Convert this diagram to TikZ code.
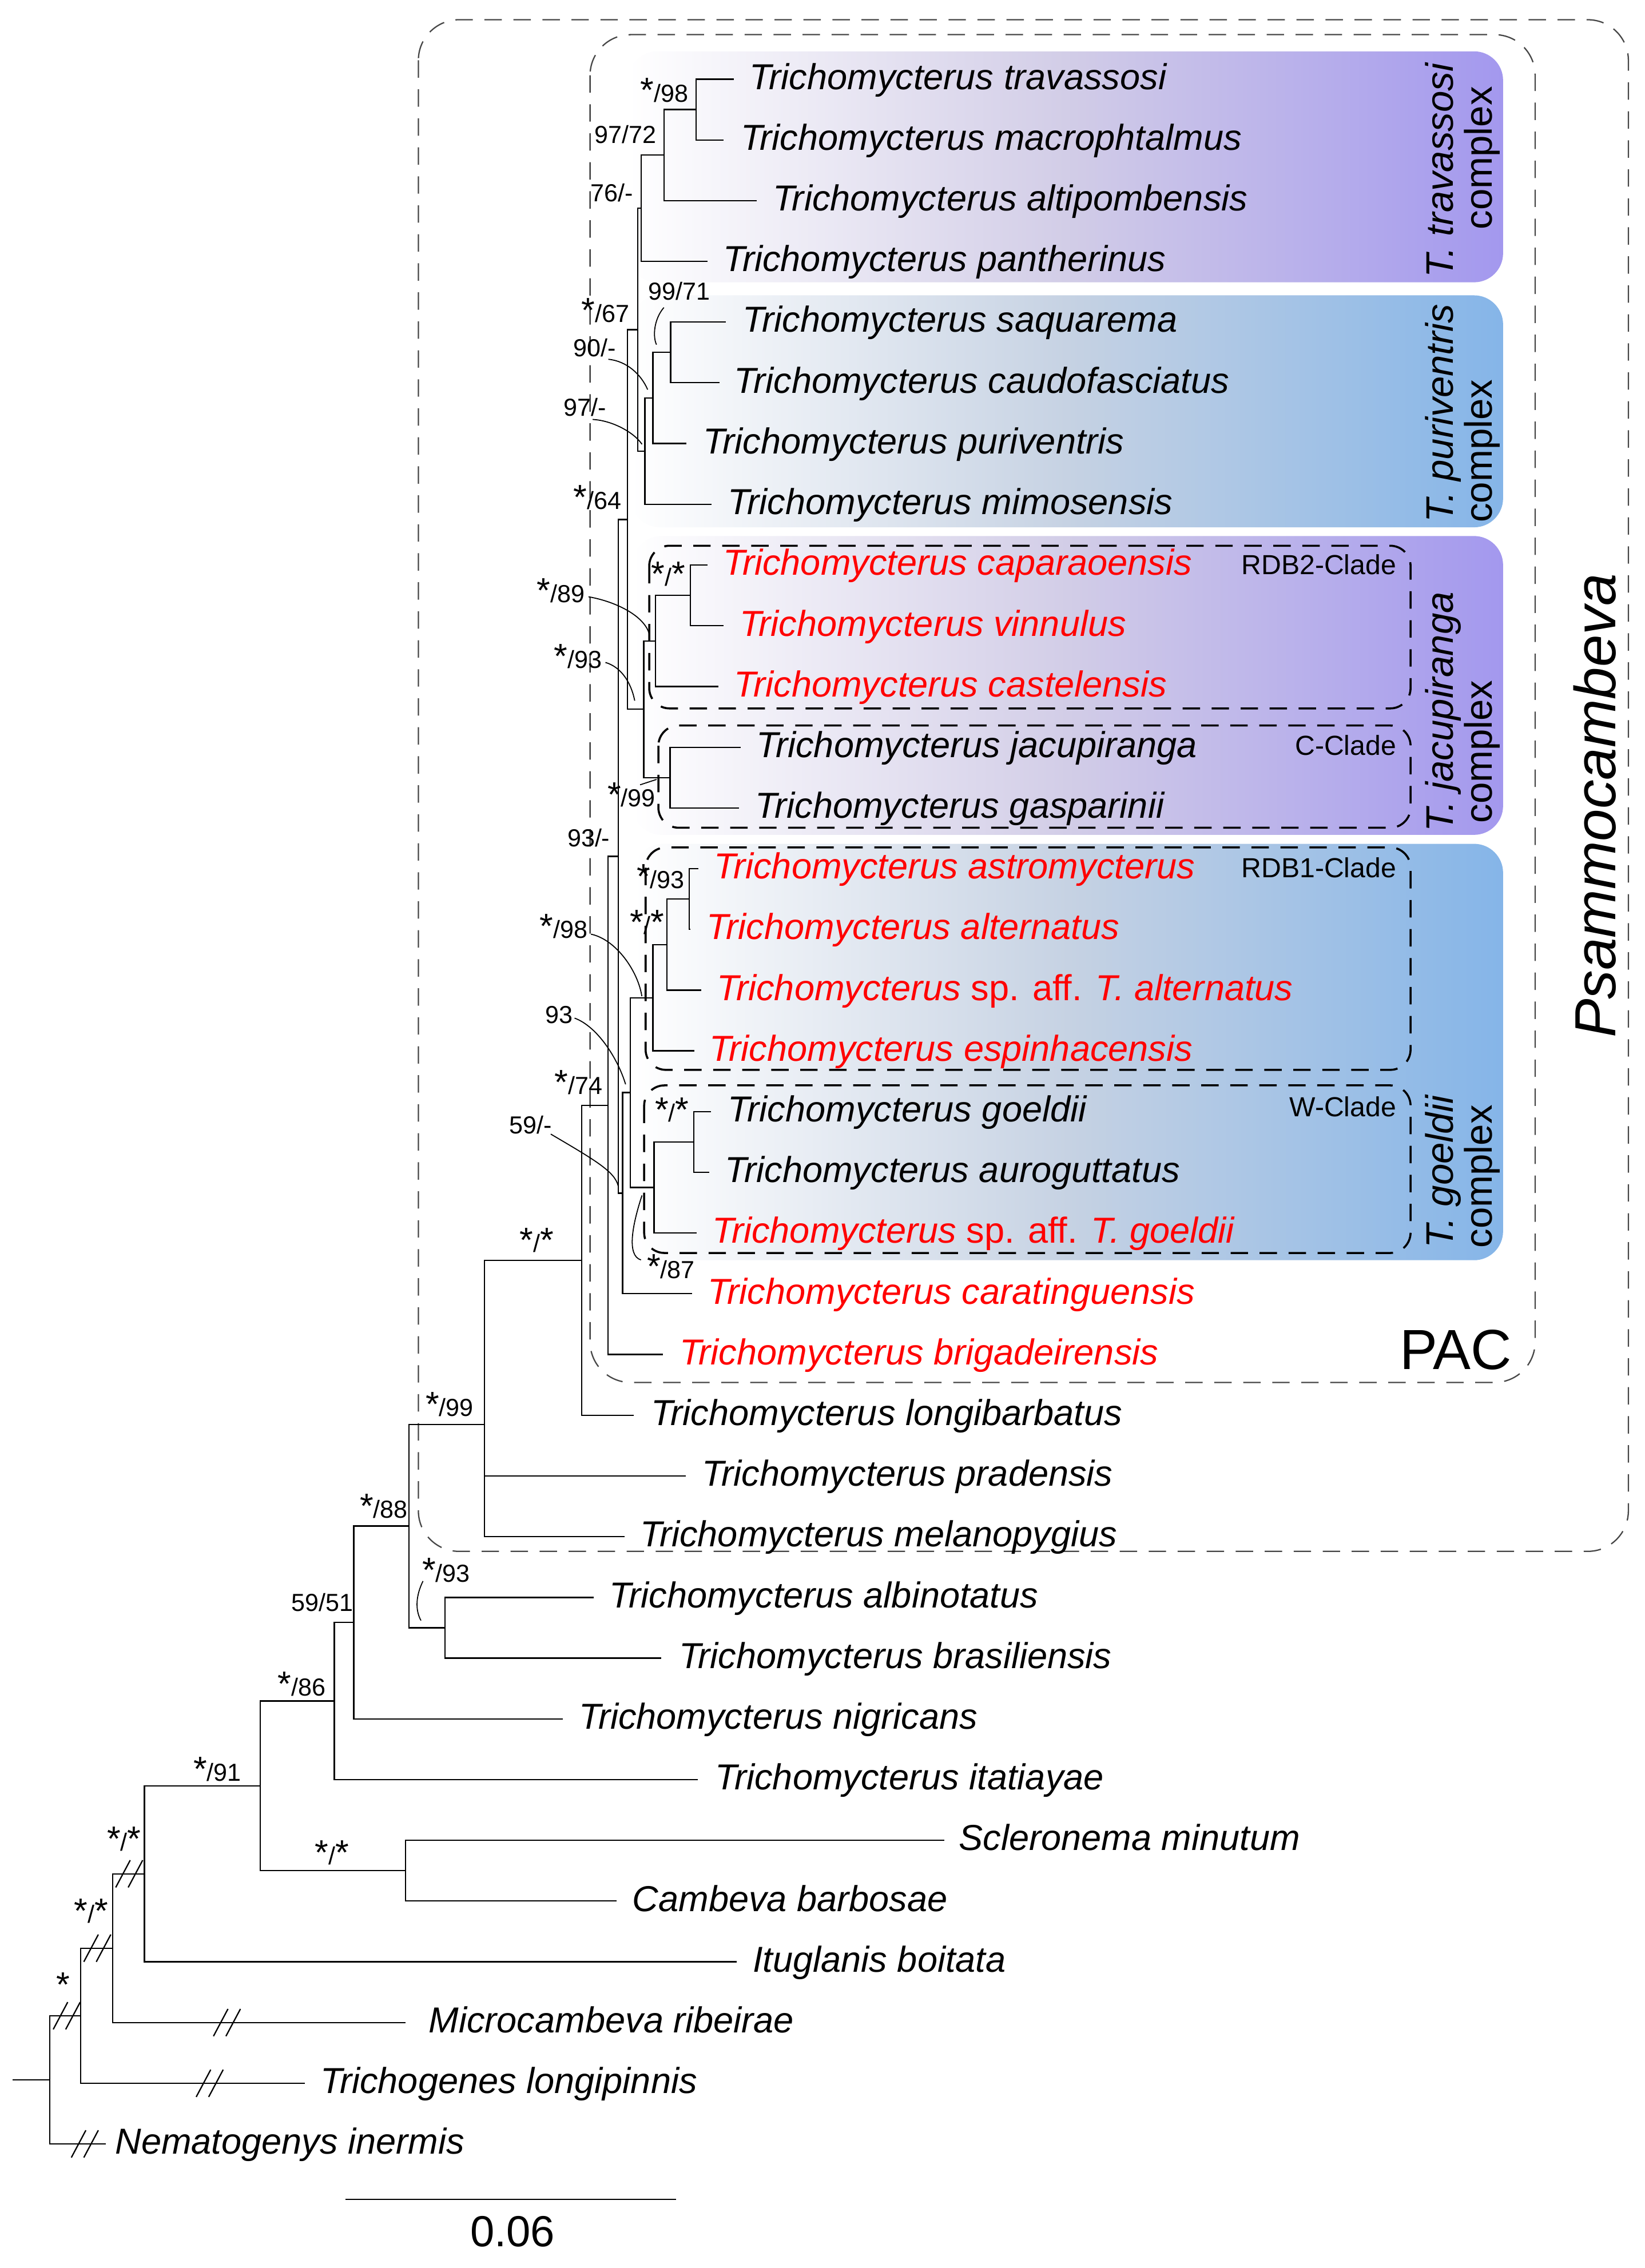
\documentclass[tikz,border=0pt]{standalone}
\usepackage{fontspec}
\setmainfont{Liberation Sans}
\usetikzlibrary{calc}
\definecolor{purpR}{RGB}{163,152,238}
\definecolor{purpM}{RGB}{210,205,231}
\definecolor{bluR}{RGB}{133,181,232}
\definecolor{bluM}{RGB}{198,210,227}
\definecolor{redT}{RGB}{255,0,0}
\definecolor{dashG}{RGB}{70,70,70}
\newcommand{\ST}{{\fontsize{24}{24}\selectfont *}}
\newcommand{\Tr}{Trichomycterus}
\newcommand{\brkmark}[1]{\draw[brk] ($(#1)+(-9,9.4)$) -- ($(#1)+(1,-9.4)$); \draw[brk] ($(#1)+(-0.4,9.4)$) -- ($(#1)+(9.6,-9.4)$);}
\begin{document}
\begin{tikzpicture}[x=1pt,y=-1pt,
 br/.style={line width=0.9pt, draw=black},
 tax/.style={anchor=base west, yshift=-7pt, inner sep=0pt, font=\fontsize{24.9}{29}\selectfont\itshape},
 sup/.style={anchor=base west, inner sep=0pt, font=\fontsize{17}{20}\selectfont},
 lead/.style={line width=0.7pt, draw=black},
 cladebox/.style={draw=black, line width=1.4pt, dash pattern=on 12pt off 8pt, rounded corners=14pt},
 outerbox/.style={draw=dashG, line width=0.9pt, dash pattern=on 12pt off 8pt, rounded corners=28pt},
 clab/.style={anchor=base east, inner sep=0pt, font=\fontsize{19}{22}\selectfont},
 cplx/.style={rotate=90, anchor=base west, inner sep=0pt, font=\fontsize{26.5}{30}\selectfont},
 brk/.style={line width=0.9pt, draw=black}
]
\useasboundingbox (0,0) rectangle (1134,1564.3);

% complex backgrounds
\shade[rounded corners=20pt, left color=white, right color=purpR, middle color=purpM] (433,35.4) rectangle (1036.5,194.7);
\shade[rounded corners=20pt, left color=white, right color=bluR, middle color=bluM] (435,203.7) rectangle (1036.5,363.7);
\shade[rounded corners=20pt, left color=white, right color=purpR, middle color=purpM] (436,369.7) rectangle (1036.5,575.8);
\shade[rounded corners=20pt, left color=white, right color=bluR, middle color=bluM] (437,582.0) rectangle (1036.5,869.2);

% outer dashed boxes
\draw[outerbox] (288.5,13.6) rectangle (1122.9,1070);
\draw[outerbox] (406.9,23.9) rectangle (1058.6,953.5);

% clade boxes
\draw[cladebox] (447.7,376.4) rectangle (972.7,488.6);
\draw[cladebox] (454.0,500.4) rectangle (972.7,570.9);
\draw[cladebox] (445.2,584.5) rectangle (972.7,737.9);
\draw[cladebox] (444.2,748.6) rectangle (972.7,864.2);

% tips
\coordinate (t1) at (506.0,54.6);
\coordinate (t2) at (498.8,96.5);
\coordinate (t3) at (521.9,138.4);
\coordinate (t4) at (488.0,180.3);
\coordinate (t5) at (500.6,222.1);
\coordinate (t6) at (496.0,264.0);
\coordinate (t7) at (473.5,305.9);
\coordinate (t8) at (490.5,347.8);
\coordinate (t9) at (488.0,389.7);
\coordinate (t10) at (498.8,431.6);
\coordinate (t11) at (495.5,473.5);
\coordinate (t12) at (510.6,515.4);
\coordinate (t13) at (509.4,557.2);
\coordinate (t14) at (481.7,599.1);
\coordinate (t15) at (476.2,641.0);
\coordinate (t16) at (483.4,682.9);
\coordinate (t17) at (478.9,724.8);
\coordinate (t18) at (490.1,766.7);
\coordinate (t19) at (489.2,808.5);
\coordinate (t20) at (480.4,850.4);
\coordinate (t21) at (477.4,892.3);
\coordinate (t22) at (457.3,934.2);
\coordinate (t23) at (437.2,976.1);
\coordinate (t24) at (473.0,1018.0);
\coordinate (t25) at (430.7,1059.9);
\coordinate (t26) at (409.5,1101.8);
\coordinate (t27) at (456.0,1143.6);
\coordinate (t28) at (388.0,1185.5);
\coordinate (t29) at (481.0,1227.4);
\coordinate (t30) at (651.0,1269.3);
\coordinate (t31) at (425.0,1311.2);
\coordinate (t32) at (508.0,1353.1);
\coordinate (t33) at (279.7,1395.0);
\coordinate (t34) at (210.1,1436.9);
\coordinate (t35) at (72.9,1478.7);

% internal nodes
\coordinate (A) at (480.0,75.55);
\coordinate (B) at (458.0,106.98);
\coordinate (C) at (442.2,143.64);
\coordinate (E) at (462.5,243.05);
\coordinate (F) at (450.2,274.48);
\coordinate (G) at (444.7,311.14);
\coordinate (D) at (439.7,227.39);
\coordinate (I) at (476.1,410.65);
\coordinate (J) at (452.0,442.08);
\coordinate (Cc) at (462.1,536.3);
\coordinate (K) at (443.9,489.19);
\coordinate (H) at (432.6,358.29);
\coordinate (P) at (475.4,620.05);
\coordinate (Q) at (459.8,651.48);
\coordinate (R) at (450.2,688.14);
\coordinate (Wg) at (478.4,787.6);
\coordinate (N) at (451.0,819.0);
\coordinate (O) at (434.6,753.57);
\coordinate (S) at (429.3,822.94);
\coordinate (L) at (426.3,590.6);
\coordinate (U) at (419.3,762.4);
\coordinate (V) at (401.2,869.25);
\coordinate (W) at (334.0,982.4);
\coordinate (Y) at (306.9,1122.7);
\coordinate (X) at (282.0,1052.55);
\coordinate (Z) at (243.9,1119.03);
\coordinate (AA) at (230.5,1173.2);
\coordinate (CC) at (279.7,1290.25);
\coordinate (BB) at (179.6,1231.7);
\coordinate (DD) at (99.6,1292.4);
\coordinate (EE) at (77.7,1343.7);
\coordinate (FF) at (55.5,1390.3);
\coordinate (GG) at (34.4,1434.5);
\coordinate (root) at (8.6,1434.5);

% edges
\draw[br] (A) |- (t1); \draw[br] (A) |- (t2);
\draw[br] (B) |- (A); \draw[br] (B) |- (t3);
\draw[br] (C) |- (B); \draw[br] (C) |- (t4);
\draw[br] (E) |- (t5); \draw[br] (E) |- (t6);
\draw[br] (F) |- (E); \draw[br] (F) |- (t7);
\draw[br] (G) |- (F); \draw[br] (G) |- (t8);
\draw[br] (D) |- (C); \draw[br] (D) |- (G);
\draw[br] (I) |- (t9); \draw[br] (I) |- (t10);
\draw[br] (J) |- (I); \draw[br] (J) |- (t11);
\draw[br] (Cc) |- (t12); \draw[br] (Cc) |- (t13);
\draw[br] (K) |- (J); \draw[br] (K) |- (Cc);
\draw[br] (H) |- (D); \draw[br] (H) |- (K);
\draw[br] (P) |- (t14); \draw[br] (P) |- (t15);
\draw[br] (Q) |- (P); \draw[br] (Q) |- (t16);
\draw[br] (R) |- (Q); \draw[br] (R) |- (t17);
\draw[br] (Wg) |- (t18); \draw[br] (Wg) |- (t19);
\draw[br] (N) |- (Wg); \draw[br] (N) |- (t20);
\draw[br] (O) |- (R); \draw[br] (O) |- (N);
\draw[br] (S) |- (O); \draw[br] (S) |- (t21);
\draw[br] (L) |- (H); \draw[br] (L) |- (S);
\draw[br] (U) |- (L); \draw[br] (U) |- (t22);
\draw[br] (V) |- (U); \draw[br] (V) |- (t23);
\draw[br] (W) |- (V); \draw[br] (W) |- (t24); \draw[br] (W) |- (t25);
\draw[br] (Y) |- (t26); \draw[br] (Y) |- (t27);
\draw[br] (X) |- (W); \draw[br] (X) |- (Y);
\draw[br] (Z) |- (X); \draw[br] (Z) |- (t28);
\draw[br] (AA) |- (Z); \draw[br] (AA) |- (t29);
\draw[br] (CC) |- (t30); \draw[br] (CC) |- (t31);
\draw[br] (BB) |- (AA); \draw[br] (BB) |- (CC);
\draw[br] (DD) |- (BB); \draw[br] (DD) |- (t32);
\draw[br] (EE) |- (DD); \draw[br] (EE) |- (t33);
\draw[br] (FF) |- (EE); \draw[br] (FF) |- (t34);
\draw[br] (GG) |- (FF); \draw[br] (GG) |- (t35);
\draw[br] (root) -- (GG);

% break marks
\coordinate (bk1) at (45.7,1390.3);
\coordinate (bk2) at (66.8,1343.7);
\coordinate (bk3) at (88.8,1292.4);
\coordinate (bk4) at (156.2,1395.0);
\coordinate (bk5) at (144.3,1436.9);
\coordinate (bk6) at (58.2,1478.7);
\brkmark{bk1}\brkmark{bk2}\brkmark{bk3}\brkmark{bk4}\brkmark{bk5}\brkmark{bk6}

% taxon labels
\node[tax] (n1) at (516.8,54.6) {\Tr\ travassosi};
\node[tax] (n2) at (510.6,96.5) {\Tr\ macrophtalmus};
\node[tax] (n3) at (532.7,138.4) {\Tr\ altipombensis};
\node[tax] (n4) at (498.5,180.3) {\Tr\ pantherinus};
\node[tax] (n5) at (512.0,222.1) {\Tr\ saquarema};
\node[tax] (n6) at (506.1,264.0) {\Tr\ caudofasciatus};
\node[tax] (n7) at (484.9,305.9) {\Tr\ puriventris};
\node[tax] (n8) at (501.8,347.8) {\Tr\ mimosensis};
\node[tax,text=redT] (n9) at (498.5,389.7) {\Tr\ caparaoensis};
\node[tax,text=redT] (n10) at (509.8,431.6) {\Tr\ vinnulus};
\node[tax,text=redT] (n11) at (506.1,473.5) {\Tr\ castelensis};
\node[tax] (n12) at (521.4,515.4) {\Tr\ jacupiranga};
\node[tax] (n13) at (520.7,557.2) {\Tr\ gasparinii};
\node[tax,text=redT] (n14) at (492.2,599.1) {\Tr\ astromycterus};
\node[tax,text=redT] (n15) at (487.2,641.0) {\Tr\ alternatus};
\node[tax,text=redT] (n16) at (494.2,682.9) {\Tr\ {\upshape sp. aff.} T. alternatus};
\node[tax,text=redT] (n17) at (489.2,724.8) {\Tr\ espinhacensis};
\node[tax] (n18) at (501.8,766.7) {\Tr\ goeldii};
\node[tax] (n19) at (499.8,808.5) {\Tr\ auroguttatus};
\node[tax,text=redT] (n20) at (491.0,850.4) {\Tr\ {\upshape sp. aff.} T. goeldii};
\node[tax,text=redT] (n21) at (488.0,892.3) {\Tr\ caratinguensis};
\node[tax,text=redT] (n22) at (468.4,934.2) {\Tr\ brigadeirensis};
\node[tax] (n23) at (449.0,976.1) {\Tr\ longibarbatus};
\node[tax] (n24) at (484.0,1018.0) {\Tr\ pradensis};
\node[tax] (n25) at (441.3,1059.9) {\Tr\ melanopygius};
\node[tax] (n26) at (420.1,1101.8) {\Tr\ albinotatus};
\node[tax] (n27) at (468.0,1143.6) {\Tr\ brasiliensis};
\node[tax] (n28) at (399.0,1185.5) {\Tr\ nigricans};
\node[tax] (n29) at (493.0,1227.4) {\Tr\ itatiayae};
\node[tax] (n30) at (661.0,1269.3) {Scleronema minutum};
\node[tax] (n31) at (436.0,1311.2) {Cambeva barbosae};
\node[tax] (n32) at (519.0,1353.1) {Ituglanis boitata};
\node[tax] (n33) at (295.5,1395.0) {Microcambeva ribeirae};
\node[tax] (n34) at (220.8,1436.9) {Trichogenes longipinnis};
\node[tax] (n35) at (79.3,1478.7) {Nematogenys inermis};

% support values
\node[sup] (s1) at (441.4,70.4) {\ST/98};
\node[sup] (s2) at (410.0,98.9) {97/72};
\node[sup] (s3) at (406.9,139.1) {76/-};
\node[sup] (s4) at (446.9,207.0) {99/71};
\node[sup] (s5) at (400.7,222.1) {\ST/67};
\node[sup] (s6) at (395.4,245.8) {90/-};
\node[sup] (s7) at (388.6,286.8) {97/-};
\node[sup] (s8) at (395.4,351.4) {\ST/64};
\node[sup] (s9) at (449.0,404.1) {\ST/\ST};
\node[sup] (s10) at (370.0,415.4) {\ST/89};
\node[sup] (s11) at (381.8,460.7) {\ST/93};
\node[sup] (s12) at (418.8,556.3) {\ST/99};
\node[sup] (s13) at (391.1,584.0) {93/-};
\node[sup] (s14) at (438.9,612.9) {\ST/93};
\node[sup] (s15) at (434.4,644.3) {\ST/\ST};
\node[sup] (s16) at (372.0,646.9) {\ST/98};
\node[sup] (s17) at (375.9,706.0) {93};
\node[sup] (s18) at (382.3,754.9) {\ST/74};
\node[sup] (s19) at (351.0,782.0) {59/-};
\node[sup] (s20) at (451.5,773.5) {\ST/\ST};
\node[sup] (s21) at (445.9,881.8) {\ST/87};
\node[sup] (s22) at (358.2,863.7) {\ST/\ST};
\node[sup] (s23) at (293.3,976.9) {\ST/99};
\node[sup] (s24) at (248.0,1047.1) {\ST/88};
\node[sup] (s25) at (291.0,1091.3) {\ST/93};
\node[sup] (s26) at (200.7,1111.2) {59/51};
\node[sup] (s27) at (191.3,1169.5) {\ST/86};
\node[sup] (s28) at (133.2,1228.4) {\ST/91};
\node[sup] (s29) at (216.9,1286.1) {\ST/\ST};
\node[sup] (s30) at (73.6,1276.7) {\ST/\ST};
\node[sup] (s31) at (51.0,1326.3) {\ST/\ST};
\node[sup] (s32) at (38.5,1377.3) {\ST};

% leader curves
\coordinate (la1) at (457.8,212.1); \coordinate (lb1) at (452.7,237.7);
\draw[lead] (la1) .. controls (451,220) and (450,232) .. (lb1);
\coordinate (la2) at (419.5,247.8); \coordinate (lb2) at (446.6,268.7);
\draw[lead] (la2) .. controls (432,249) and (442,258) .. (lb2);
\coordinate (la3) at (408.7,289.3); \coordinate (lb3) at (442.7,306.4);
\draw[lead] (la3) .. controls (422,290) and (437,298) .. (lb3);
\coordinate (la4) at (405.8,411.6); \coordinate (lb4) at (447.9,438.0);
\draw[lead] (la4) .. controls (425,415) and (445,425) .. (lb4);
\coordinate (la5) at (417.5,456.9); \coordinate (lb5) at (437.7,483.3);
\draw[lead] (la5) .. controls (428,460) and (435,470) .. (lb5);
\coordinate (la6) at (441.4,541.3); \coordinate (lb6) at (452.7,537.6);
\draw[lead] (la6) -- (lb6);
\coordinate (la7) at (407.5,644.3); \coordinate (lb7) at (442.6,687.1);
\draw[lead] (la7) .. controls (425,648) and (440,670) .. (lb7);
\coordinate (la8) at (396.2,702.2); \coordinate (lb8) at (431.4,747.9);
\draw[lead] (la8) .. controls (412,708) and (426,730) .. (lb8);
\coordinate (la9) at (379.8,782.2); \coordinate (lb9) at (426.3,818.0);
\draw[lead] (la9) .. controls (410,800) and (424,808) .. (lb9);
\coordinate (la10) at (442.7,824.5); \coordinate (lb10) at (442.0,869.0);
\draw[lead] (la10) .. controls (436,845) and (432,866) .. (lb10);
\coordinate (la11) at (291.7,1090.5); \coordinate (lb11) at (290.3,1117.7);
\draw[lead] (la11) .. controls (287,1100) and (286,1110) .. (lb11);

% clade labels
\node[clab] (cl1) at (963,396.3) {RDB2-Clade};
\node[clab] (cl2) at (963,520.8) {C-Clade};
\node[clab] (cl3) at (963,605.2) {RDB1-Clade};
\node[clab] (cl4) at (963,770.1) {W-Clade};

% complex labels
\node[cplx] (c1a) at (1002,191.6) {\itshape T. travassosi};
\node[cplx] (c1b) at (1029,158.5) {complex};
\node[cplx] (c2a) at (1002,360.6) {\itshape T. puriventris};
\node[cplx] (c2b) at (1029,360.6) {complex};
\node[cplx] (c3a) at (1002,574.0) {\itshape T. jacupiranga};
\node[cplx] (c3b) at (1029,568.0) {complex};
\node[cplx] (c4a) at (1002,861.0) {\itshape T. goeldii};
\node[cplx] (c4b) at (1029,861.0) {complex};

\node[rotate=90, anchor=base west, inner sep=0pt, font=\fontsize{40}{44}\selectfont\itshape] (psam) at (1114,716) {Psammocambeva};
\node[anchor=base west, inner sep=0pt, font=\fontsize{39}{44}\selectfont] (pac) at (965,944.4) {PAC};

% scale bar
\coordinate (sb1) at (238.1,1517);
\coordinate (sb2) at (466.2,1517);
\draw[line width=1pt, draw=black] (sb1) -- (sb2);
\node[anchor=base, inner sep=0pt, font=\fontsize{30}{34}\selectfont] (sbl) at (353.5,1549.6) {0.06};
\end{tikzpicture}
\end{document}
